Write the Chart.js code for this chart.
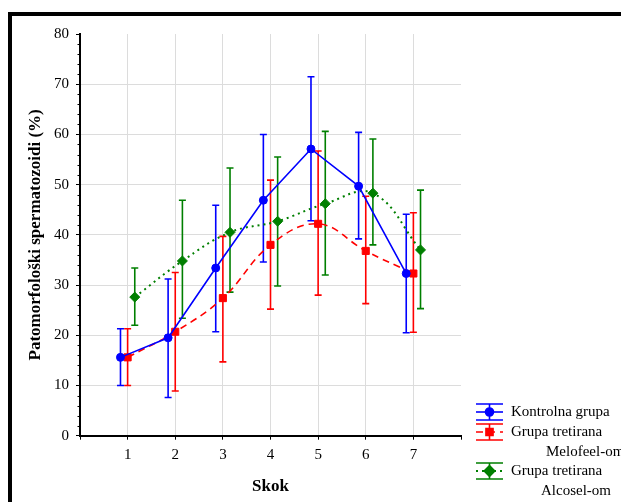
<!DOCTYPE html>
<html><head><meta charset="utf-8">
<script src="https://cdn.jsdelivr.net/npm/chart.js@4"></script>
<style>html,body{margin:0;padding:0;background:#fff;} canvas{display:block;}</style>
</head><body>
<canvas id="c" width="621" height="502"></canvas>
<script>
const categories = [1, 2, 3, 4, 5, 6, 7];
const xTickLabels = ['1', '2', '3', '4', '5', '6', '7'];
const yAxisTitle = 'Patomorfološki spermatozoidi (%)';
const xAxisTitle = 'Skok';

const kontrolnaMean  = [15.6, 19.5, 33.4, 46.9, 57.1, 49.7, 32.3];
const kontrolnaUpper = [21.3, 31.2, 45.9, 60.0, 71.5, 60.4, 44.1];
const kontrolnaLower = [10.0,  7.6, 20.7, 34.6, 42.8, 39.2, 20.5];

const melofeelMean  = [15.6, 20.7, 27.4, 38.0, 42.2, 36.8, 32.3];
const melofeelUpper = [21.3, 32.5, 39.7, 50.9, 56.7, 47.7, 44.4];
const melofeelLower = [10.0,  8.9, 14.7, 25.2, 28.0, 26.3, 20.6];

const alcoselMean  = [27.6, 34.8, 40.5, 42.7, 46.2, 48.3, 37.0];
const alcoselUpper = [33.4, 46.9, 53.3, 55.5, 60.6, 59.1, 48.9];
const alcoselLower = [22.0, 23.4, 28.6, 29.8, 32.0, 38.0, 25.3];

const legendKontrolna = ['Kontrolna grupa'];
const legendMelofeel = ['Grupa tretirana', 'Melofeel-om'];
const legendAlcosel = ['Grupa tretirana', 'Alcosel-om'];

const SERIF = '"Liberation Serif", "Times New Roman", serif';
const BLUE = '#0000ff', RED = '#ff0000', GREEN = '#007f00';

function pts(means, off) {
  return categories.map((c, i) => ({ x: c + off, y: means[i] }));
}

const seriesInfo = [
  { upper: kontrolnaUpper, lower: kontrolnaLower, color: BLUE, dash: [], style: 'circle', legend: legendKontrolna },
  { upper: melofeelUpper, lower: melofeelLower, color: RED, dash: [7, 5], style: 'rect', legend: legendMelofeel },
  { upper: alcoselUpper, lower: alcoselLower, color: GREEN, dash: [2, 4], style: 'rectRot', legend: legendAlcosel }
];

const errorBars = {
  id: 'errorBars',
  beforeDatasetsDraw(chart) {
    const ctx = chart.ctx, ys = chart.scales.y;
    seriesInfo.forEach((s, i) => {
      const meta = chart.getDatasetMeta(i);
      ctx.save();
      ctx.strokeStyle = s.color;
      ctx.lineWidth = 1.6;
      meta.data.forEach((el, j) => {
        const x = el.x;
        const yt = ys.getPixelForValue(s.upper[j]);
        const yb = ys.getPixelForValue(s.lower[j]);
        ctx.beginPath();
        ctx.moveTo(x, yt); ctx.lineTo(x, yb);
        ctx.moveTo(x - 3.5, yt); ctx.lineTo(x + 3.5, yt);
        ctx.moveTo(x - 3.5, yb); ctx.lineTo(x + 3.5, yb);
        ctx.stroke();
      });
      ctx.restore();
    });
  }
};

const minorTicks = {
  id: 'minorTicks',
  afterDraw(chart) {
    const ctx = chart.ctx, ys = chart.scales.y, left = chart.chartArea.left;
    ctx.save();
    ctx.strokeStyle = '#000';
    ctx.lineWidth = 1;
    for (let v = 2; v < 80; v += 2) {
      if (v % 10 === 0) continue;
      const y = Math.round(ys.getPixelForValue(v)) + 0.5;
      ctx.beginPath(); ctx.moveTo(left - 2.5, y); ctx.lineTo(left, y); ctx.stroke();
    }
    ctx.restore();
  }
};

const frameAndLegend = {
  id: 'frameAndLegend',
  afterDraw(chart) {
    const ctx = chart.ctx;
    ctx.save();
    ctx.strokeStyle = '#000';
    ctx.lineWidth = 4;
    ctx.strokeRect(10, 14, 700, 600);
    const rows = [
      { cy: 412, x2: 0 },
      { cy: 432, x2: 546 },
      { cy: 471, x2: 541 }
    ];
    const x0 = 476, x1 = 503, xm = 489.5;
    seriesInfo.forEach((s, i) => {
      const r = rows[i];
      ctx.strokeStyle = s.color;
      ctx.fillStyle = s.color;
      ctx.lineWidth = 1.6;
      ctx.setLineDash([]);
      ctx.beginPath();
      ctx.moveTo(x0, r.cy - 8); ctx.lineTo(x1, r.cy - 8);
      ctx.moveTo(x0, r.cy + 8); ctx.lineTo(x1, r.cy + 8);
      ctx.moveTo(xm, r.cy - 8); ctx.lineTo(xm, r.cy + 8);
      ctx.stroke();
      ctx.setLineDash(s.dash);
      ctx.lineWidth = s.style === 'rectRot' ? 2 : 1.6;
      ctx.beginPath(); ctx.moveTo(x0, r.cy); ctx.lineTo(x1, r.cy); ctx.stroke();
      ctx.setLineDash([]);
      const rad = s.style === 'circle' ? 4 : 5;
      Chart.helpers.drawPoint(ctx, { pointStyle: s.style, radius: rad, borderWidth: 1 }, xm, r.cy);
      ctx.fill();
      ctx.fillStyle = '#000';
      ctx.font = '15px ' + SERIF;
      ctx.textBaseline = 'middle';
      ctx.textAlign = 'left';
      ctx.fillText(s.legend[0], 511, r.cy);
      if (s.legend[1]) ctx.fillText(s.legend[1], r.x2, r.cy + 20.5);
    });
    ctx.restore();
  }
};

function lineDs(label, means, off, s, tension, width) {
  return {
    type: 'line',
    label,
    data: pts(means, off),
    borderColor: s.color,
    backgroundColor: s.color,
    borderWidth: width,
    borderDash: s.dash,
    tension,
    pointStyle: s.style,
    pointRadius: s.style === 'circle' ? 4 : 5,
    pointBorderWidth: 1,
    pointBackgroundColor: s.color,
    pointBorderColor: s.color,
    fill: false
  };
}

new Chart(document.getElementById('c'), {
  type: 'scatter',
  data: {
    datasets: [
      lineDs(legendKontrolna.join(' '), kontrolnaMean, -0.15, seriesInfo[0], 0, 1.6),
      lineDs(legendMelofeel.join(' '), melofeelMean, 0, seriesInfo[1], 0.4, 1.6),
      lineDs(legendAlcosel.join(' '), alcoselMean, 0.15, seriesInfo[2], 0.4, 2)
    ]
  },
  options: {
    responsive: false,
    animation: false,
    showLine: true,
    layout: { padding: { left: 20, top: 34, right: 160, bottom: 0 } },
    plugins: { legend: { display: false }, tooltip: { enabled: false } },
    scales: {
      x: {
        type: 'linear', min: 0, max: 8,
        afterFit(s) { s.height = 66.3; },
        ticks: {
          stepSize: 1, autoSkip: false, padding: 6, color: '#000',
          font: { family: SERIF, size: 15 },
          callback: (v) => (v >= 1 && v <= 7 ? xTickLabels[v - 1] : '')
        },
        grid: {
          color: (c) => (c.tick && c.tick.value >= 1 && c.tick.value <= 7 ? '#dcdcdc' : 'rgba(0,0,0,0)'),
          tickColor: '#000', tickLength: 4, lineWidth: 1
        },
        border: { display: true, color: '#000', width: 2 },
        title: { display: true, text: xAxisTitle, color: '#000', font: { family: SERIF, size: 17, weight: 'bold' }, padding: { top: 0, bottom: 5 } }
      },
      y: {
        type: 'linear', min: 0, max: 80,
        afterFit(s) { s.width = 60; },
        ticks: { stepSize: 10, padding: 7, color: '#000', font: { family: SERIF, size: 15 } },
        grid: {
          color: (c) => (c.tick && c.tick.value > 0 && c.tick.value < 80 ? '#dcdcdc' : 'rgba(0,0,0,0)'),
          tickColor: '#000', tickLength: 4, lineWidth: 1
        },
        border: { display: true, color: '#000', width: 2 },
        title: { display: true, text: yAxisTitle, color: '#000', font: { family: SERIF, size: 17, weight: 'bold' }, padding: { top: 5, bottom: 0 } }
      }
    }
  },
  plugins: [errorBars, minorTicks, frameAndLegend]
});
</script>
</body></html>
